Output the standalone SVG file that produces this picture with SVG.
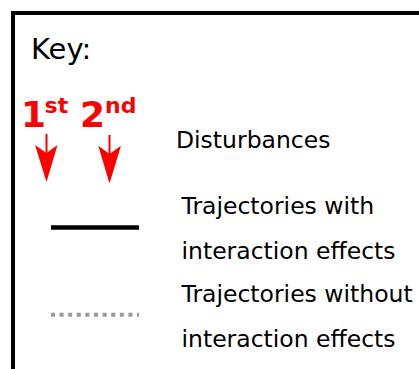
<svg xmlns="http://www.w3.org/2000/svg" width="419" height="369" viewBox="0 0 419 369">
  <style>
    .lbl { font-family: "DejaVu Sans", sans-serif; font-size: 23.5px; fill: #000; }
    .ord { font-family: "DejaVu Sans", sans-serif; font-weight: bold; fill: #ff0000; }
    .shaft { stroke: #ff0000; stroke-width: 2; fill: none; }
    .head { fill: #ff0000; stroke: none; }
  </style>
  <rect x="13" y="13" width="430" height="380" fill="#fff" stroke="#000" stroke-width="4"/>
  <g id="title">
    <text x="31" y="59" style="font-family: 'DejaVu Sans', sans-serif; font-size: 29px;" fill="#000">Key:</text>
  </g>
  <g id="disturbance-1">
    <text class="ord" x="21" y="127.3" font-size="36">1<tspan font-size="22" dy="-14" dx="-1.5">st</tspan></text>
    <line class="shaft" x1="46.5" y1="134" x2="46.5" y2="155"/>
    <path class="head" d="M46.5,182 L35,145 L46.5,153 L57.5,145 Z"/>
  </g>
  <g id="disturbance-2">
    <text class="ord" x="80" y="127.3" font-size="36">2<tspan font-size="22" dy="-14">nd</tspan></text>
    <line class="shaft" x1="109.5" y1="135" x2="109.5" y2="156"/>
    <path class="head" d="M109.5,183.5 L98.3,145.7 L109.5,154 L121,145.7 Z"/>
  </g>
  <g id="disturbances-label">
    <text class="lbl" x="176" y="147.7">Disturbances</text>
  </g>
  <g id="with-interaction">
    <line x1="51" y1="227.5" x2="139" y2="227.5" stroke="#000" stroke-width="4.5"/>
    <text class="lbl" x="181.5" y="214">Trajectories with</text>
    <text class="lbl" x="181.5" y="259">interaction effects</text>
  </g>
  <g id="without-interaction">
    <line x1="51" y1="314.7" x2="139" y2="314.7" stroke="#999" stroke-width="4" stroke-dasharray="4 4.6"/>
    <text class="lbl" x="181.5" y="301.7">Trajectories without</text>
    <text class="lbl" x="181.5" y="346.7">interaction effects</text>
  </g>
</svg>
